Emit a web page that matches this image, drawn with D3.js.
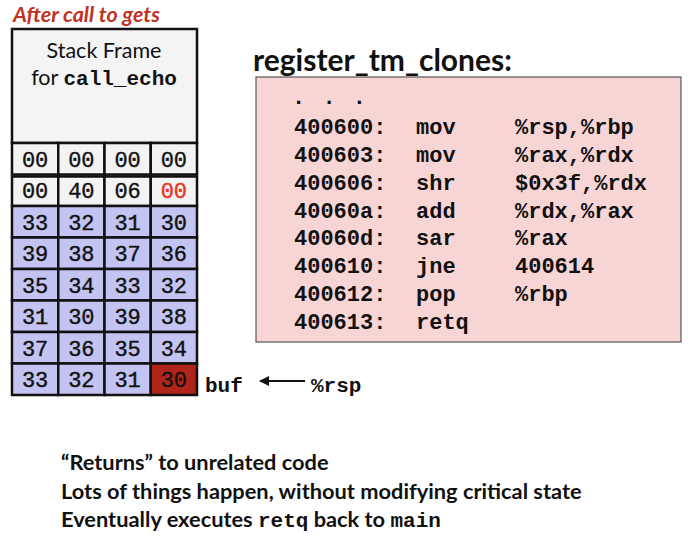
<!DOCTYPE html>
<html>
<head>
<meta charset="utf-8">
<script src="https://cdn.jsdelivr.net/npm/d3@7"></script>
<style>
  body { margin: 0; background: #fff; }
  svg { display: block; }
</style>
</head>
<body>
<div id="chart"></div>
<script>
// Stack contents, top (high address) to bottom (buf)
const stackRows = [
    ["00", "00", "00", "00"],
    ["00", "40", "06", "00"],
    ["33", "32", "31", "30"],
    ["39", "38", "37", "36"],
    ["35", "34", "33", "32"],
    ["31", "30", "39", "38"],
    ["37", "36", "35", "34"],
    ["33", "32", "31", "30"]
];
// kind of each row: saved = untouched, ret = overwritten return address, buf = input string
const rowKinds = ["saved", "ret", "buf", "buf", "buf", "buf", "buf", "buf"];

const codeAddrs = ["400600:", "400603:", "400606:", "40060a:", "40060d:", "400610:", "400612:", "400613:"];
const codeOps = ["mov", "mov", "shr", "add", "sar", "jne", "pop", "retq"];
const codeArgs = ["%rsp,%rbp", "%rax,%rdx", "$0x3f,%rdx", "%rdx,%rax", "%rax", "400614", "%rbp", ""];

const notes = [
    [["\u201cReturns\u201d to unrelated code", false]],
    [["Lots of things happen, without modifying critical state", false]],
    [["Eventually executes ", false], ["retq", true], [" back to ", false], ["main", true]]
];

const W = 693, H = 539;
const sans = "Lato, 'Open Sans', sans-serif";
const mono = "'Liberation Mono', 'Courier New', monospace";

const svg = d3.select("#chart").append("svg")
    .attr("width", W)
    .attr("height", H);

// Title
svg.append("text")
    .attr("x", 13).attr("y", 22)
    .style("font-family", sans)
    .style("font-size", "21.5px")
    .style("font-weight", "bold")
    .style("font-style", "italic")
    .attr("fill", "#c0321f")
    .text("After call to gets");

// Stack frame box
svg.append("rect")
    .attr("x", 12).attr("y", 29)
    .attr("width", 185).attr("height", 114)
    .attr("fill", "#f4f4f4")
    .attr("stroke", "#111")
    .attr("stroke-width", 2.5);

svg.append("text")
    .attr("x", 104).attr("y", 58)
    .attr("text-anchor", "middle")
    .style("font-family", sans)
    .style("font-size", "21.5px")
    .attr("fill", "#111")
    .text("Stack Frame");

const forLine = svg.append("text")
    .attr("x", 104).attr("y", 85)
    .attr("text-anchor", "middle")
    .style("font-family", sans)
    .style("font-size", "21.5px")
    .attr("fill", "#111");
forLine.append("tspan").text("for ");
forLine.append("tspan")
    .style("font-family", mono)
    .style("font-weight", "bold")
    .style("font-size", "21px")
    .text("call_echo");

// Byte cells
const x = d3.scaleBand().domain(d3.range(4)).range([12, 197]);
const y = d3.scaleBand().domain(d3.range(stackRows.length)).range([143, 395]);

const cells = [];
stackRows.forEach((row, r) => row.forEach((v, c) => cells.push({ r, c, v, kind: rowKinds[r] })));

const isLast = d => d.r === stackRows.length - 1 && d.c === 3;
const isRetLow = d => d.kind === "ret" && d.c === 3;

const cellG = svg.append("g");
cellG.selectAll("rect")
    .data(cells).enter().append("rect")
    .attr("x", d => x(d.c))
    .attr("y", d => y(d.r) + (d.kind === "ret" ? 2 : 0))
    .attr("width", x.bandwidth())
    .attr("height", d => y.bandwidth() - (d.kind === "ret" ? 2 : 0))
    .attr("fill", d => isLast(d) ? "#b0241a" : (d.kind === "buf" ? "#c4c4f2" : "#f3f3f3"))
    .attr("stroke", "#111")
    .attr("stroke-width", 2.5);

cellG.selectAll("text")
    .data(cells).enter().append("text")
    .attr("x", d => x(d.c) + x.bandwidth() / 2)
    .attr("y", d => y(d.r) + y.bandwidth() / 2 + 8)
    .attr("text-anchor", "middle")
    .style("font-family", mono)
    .style("font-size", "22px")
    .attr("fill", d => isRetLow(d) ? "#e8321f" : "#111")
    .attr("stroke", d => isRetLow(d) ? "#e8321f" : "#111")
    .attr("stroke-width", 0.4)
    .text(d => d.v);

// buf label and %rsp arrow
svg.append("defs").append("marker")
    .attr("id", "arrow")
    .attr("viewBox", "0 0 10 10")
    .attr("refX", 9).attr("refY", 5)
    .attr("markerWidth", 5).attr("markerHeight", 5)
    .attr("orient", "auto")
    .append("path")
    .attr("d", "M0,0L10,5L0,10z")
    .attr("fill", "#111");

svg.append("text")
    .attr("x", 205).attr("y", 392)
    .style("font-family", mono)
    .style("font-weight", "bold")
    .style("font-size", "21px")
    .attr("fill", "#111")
    .text("buf");

svg.append("line")
    .attr("x1", 305).attr("y1", 381)
    .attr("x2", 260).attr("y2", 381)
    .attr("stroke", "#111")
    .attr("stroke-width", 2)
    .attr("marker-end", "url(#arrow)");

svg.append("text")
    .attr("x", 311).attr("y", 392)
    .style("font-family", mono)
    .style("font-weight", "bold")
    .style("font-size", "21px")
    .attr("fill", "#111")
    .text("%rsp");

// Code listing
svg.append("text")
    .attr("x", 253).attr("y", 71)
    .style("font-family", sans)
    .style("font-size", "30px")
    .style("font-weight", "bold")
    .attr("fill", "#111")
    .text("register_tm_clones:");

svg.append("rect")
    .attr("x", 256).attr("y", 77)
    .attr("width", 425).attr("height", 265)
    .attr("fill", "#f8d5d5")
    .attr("stroke", "#555")
    .attr("stroke-width", 1.2);

const yc = d3.scalePoint().domain(d3.range(codeAddrs.length + 1)).range([99, 322]);
const codeG = svg.append("g")
    .style("font-family", mono)
    .style("font-weight", "bold")
    .style("font-size", "22px")
    .attr("fill", "#111");

codeG.append("text")
    .attr("x", 292).attr("y", yc(0) + 5)
    .attr("letter-spacing", 2)
    .text(". . .");

codeAddrs.forEach((a, i) => {
    const row = codeG.append("g").attr("transform", `translate(0,${yc(i + 1) + 7})`);
    row.append("text").attr("x", 294).text(a);
    row.append("text").attr("x", 416).text(codeOps[i]);
    row.append("text").attr("x", 515).text(codeArgs[i]);
});

// Notes below
const ny = d3.scalePoint().domain(d3.range(notes.length)).range([470, 527]);
notes.forEach((segs, i) => {
    const t = svg.append("text")
        .attr("x", 61).attr("y", ny(i))
        .style("font-family", sans)
        .style("font-size", "21.8px")
        .style("font-weight", "bold")
        .attr("fill", "#111");
    segs.forEach(([s, isCode]) => {
        const sp = t.append("tspan").text(s);
        if (isCode) sp.style("font-family", mono).style("font-size", "21px");
    });
});
</script>
</body>
</html>
